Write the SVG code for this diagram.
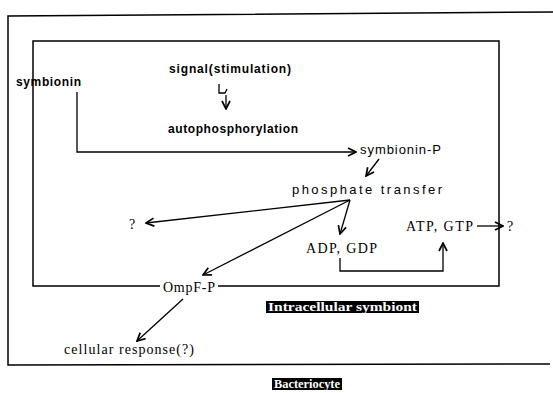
<svg xmlns="http://www.w3.org/2000/svg" width="553" height="393" viewBox="0 0 553 393">
<defs>
<marker id="ah" viewBox="0 0 10 10" refX="9" refY="5" markerWidth="10" markerHeight="10" markerUnits="userSpaceOnUse" orient="auto">
<path d="M1,1 L9,5 L1,9" fill="none" stroke="#000" stroke-width="1.7"/>
</marker>
<style>
.ln{fill:none;stroke:#000;stroke-width:1.3}
.bx{fill:none;stroke:#000;stroke-width:1.5}
.b{font-family:"Liberation Sans",Arial,sans-serif;font-weight:bold;font-size:12px;fill:#000}
.s{font-family:"Liberation Sans",Arial,sans-serif;font-size:13px;fill:#000}
.r{font-family:"Liberation Serif","Times New Roman",serif;font-size:14px;fill:#000}
.w{font-family:"Liberation Serif","Times New Roman",serif;font-weight:bold;font-size:12px;fill:#fff}
</style>
</defs>
<rect width="553" height="393" fill="#fff"/>
<g id="bacteriocyte">
<polyline class="bx" points="553,12 8,16 8,365 550,364"/>
<rect x="272" y="378" width="70" height="12" fill="#000"/>
<text class="w" x="274" y="388" textLength="66" lengthAdjust="spacingAndGlyphs">Bacteriocyte</text>
</g>
<g id="symbiont">
<path class="bx" d="M160,286 H33 V41 H499 V286 H218"/>
<rect x="266" y="301" width="153" height="12" fill="#000"/>
<text class="w" x="268" y="311" textLength="149" lengthAdjust="spacingAndGlyphs">Intracellular symbiont</text>
</g>
<g id="signal"><text class="b" x="169" y="73" textLength="122" lengthAdjust="spacing">signal(stimulation)</text></g>
<g id="symbionin"><text class="b" x="16" y="86" textLength="65" lengthAdjust="spacing">symbionin</text></g>
<g id="autophosphorylation"><text class="b" x="168" y="133" textLength="130" lengthAdjust="spacing">autophosphorylation</text></g>
<g id="symbionin-P"><text class="s" x="360" y="154" textLength="81" lengthAdjust="spacing">symbionin-P</text></g>
<g id="phosphate-transfer"><text class="s" x="292" y="194" textLength="150" lengthAdjust="spacing">phosphate transfer</text></g>
<g id="q1"><text class="r" x="129" y="229">?</text></g>
<g id="adp"><text class="r" x="306" y="253" textLength="71" lengthAdjust="spacing">ADP, GDP</text></g>
<g id="atp"><text class="r" x="406" y="231" textLength="67" lengthAdjust="spacing">ATP, GTP</text></g>
<g id="q2"><text class="r" x="507" y="231">?</text></g>
<g id="ompf"><text class="r" x="163" y="292" textLength="52" lengthAdjust="spacing">OmpF-P</text></g>
<g id="cellular-response"><text class="r" x="64" y="354" textLength="130" lengthAdjust="spacing">cellular response(?)</text></g>
<g id="connectors">
<polyline class="ln" points="219,84 219,93 225,93 227,89" stroke-width="2"/>
<line class="ln" x1="226" y1="95" x2="226" y2="109" marker-end="url(#ah)"/>
<polyline class="ln" points="77,92 77,152 356,152" marker-end="url(#ah)"/>
<line class="ln" x1="379" y1="159" x2="366" y2="176" marker-end="url(#ah)"/>
<line class="ln" x1="350" y1="200" x2="146" y2="223" marker-end="url(#ah)"/>
<line class="ln" x1="350" y1="200" x2="340" y2="234" marker-end="url(#ah)"/>
<line class="ln" x1="350" y1="200" x2="203" y2="275" marker-end="url(#ah)"/>
<polyline class="ln" points="340,258 340,271 443,271 443,243" marker-end="url(#ah)"/>
<line class="ln" x1="477" y1="226" x2="503" y2="226" marker-end="url(#ah)"/>
<line class="ln" x1="183" y1="299" x2="137" y2="341" marker-end="url(#ah)"/>
</g>
</svg>
